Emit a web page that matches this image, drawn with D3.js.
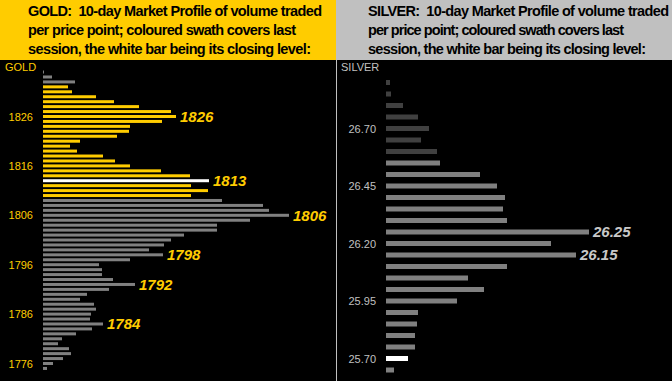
<!DOCTYPE html>
<html>
<head>
<meta charset="utf-8">
<script src="https://cdn.jsdelivr.net/npm/d3@7"></script>
<style>
  html, body { margin: 0; padding: 0; background: #000; }
  svg { display: block; font-family: Arial, "Liberation Sans", sans-serif; }
</style>
</head>
<body>
<div id="chart"></div>
<script>
// gold: price points from top to bottom, volume per price point
const goldPrices = d3.range(1835, 1774, -1);
const goldVolumes = [
  1, 9, 32, 25, 29, 53, 71, 96, 128, 133,
  119, 87, 86, 74, 37, 27, 34, 60, 72, 87,
  118, 147, 166, 148, 165, 148, 179, 220, 226, 246,
  207, 174, 174, 141, 128, 121, 106, 120, 87, 56,
  59, 59, 70, 92, 66, 44, 37, 51, 53, 48,
  47, 60, 49, 33, 19, 15, 26, 28, 20, 10,
  4
];
const goldSession = [1810, 1832];
const goldClose = 1813;
const goldTicks = [1826, 1816, 1806, 1796, 1786, 1776];
const goldCallouts = [1826, 1813, 1806, 1798, 1792, 1784];

// silver
const silverPrices = d3.range(26.90, 25.64, -0.05).map(d => +d.toFixed(2));
const silverVolumes = [
  4, 5, 17, 32, 43, 35, 51, 54, 94, 111,
  119, 117, 121, 203, 165, 190, 121, 82, 98, 71,
  32, 31, 29, 29, 22, 8
];
const silverSession = [25.65, 26.55];
const silverClose = 25.70;
const silverTicks = [26.70, 26.45, 26.20, 25.95, 25.70];
const silverCallouts = [26.25, 26.15];

const goldHeader = ['GOLD:  10-day Market Profile of volume traded', 'per price point; coloured swath covers last', 'session, the white bar being its closing level:'];
const silverHeader = ['SILVER:  10-day Market Profile of volume traded', 'per price point; coloured swath covers last', 'session, the white bar being its closing level:'];

const W = 672, H = 381;
const headerH = 60;
const split = 336;

const svg = d3.select('#chart').append('svg')
  .attr('width', W)
  .attr('height', H);

svg.append('rect').attr('width', W).attr('height', H).attr('fill', '#000');

// headers
svg.append('rect').attr('x', 0).attr('y', 0).attr('width', split).attr('height', headerH).attr('fill', '#FFCC00');
svg.append('rect').attr('x', split).attr('y', 0).attr('width', W - split).attr('height', headerH).attr('fill', '#C0C0C0');
svg.append('line')
  .attr('x1', split + 0.5).attr('x2', split + 0.5)
  .attr('y1', headerH).attr('y2', H)
  .attr('stroke', '#C0C0C0');

function header(x, lines, lengths) {
  lines.forEach((l, i) => {
    svg.append('text')
      .attr('x', x)
      .attr('y', 16 + i * 19)
      .attr('font-size', '14.5px')
      .attr('font-weight', 'bold')
      .attr('textLength', lengths[i])
      .attr('lengthAdjust', 'spacing')
      .style('white-space', 'pre')
      .attr('fill', '#000')
      .text(l);
  });
}
header(28, goldHeader, [294, 268, 283]);
header(368, silverHeader, [301, 256, 278]);

function profile(opts) {
  const g = svg.append('g');
  const y = d3.scaleLinear().domain(opts.yDomain).range(opts.yRange);
  const x = d3.scaleLinear().domain([0, 100]).range([opts.x0, opts.x0 + 100]);
  const data = opts.prices.map((p, i) => ({ price: p, vol: opts.volumes[i] }));

  const colour = d => {
    if (Math.abs(d.price - opts.close) < 1e-6) return '#FFFFFF';
    if (d.price >= opts.session[0] - 1e-6 && d.price <= opts.session[1] + 1e-6) return opts.swath;
    return opts.rest;
  };

  g.selectAll('rect.bar')
    .data(data)
    .enter().append('rect')
    .attr('class', 'bar')
    .attr('x', x(0))
    .attr('y', d => y(d.price) - opts.barH / 2)
    .attr('width', d => x(d.vol) - x(0))
    .attr('height', opts.barH)
    .attr('fill', colour);

  const axis = d3.axisLeft(y)
    .tickValues(opts.ticks)
    .tickSize(0)
    .tickPadding(0)
    .tickFormat(opts.fmt);
  const ax = g.append('g')
    .attr('transform', `translate(${opts.axisX}, 0)`)
    .call(axis);
  ax.select('.domain').remove();
  ax.selectAll('text')
    .attr('fill', opts.tickColour)
    .attr('font-size', '11px')
    .attr('font-family', 'Arial, "Liberation Sans", sans-serif');

  g.append('text')
    .attr('x', opts.titleX)
    .attr('y', 71)
    .attr('font-size', '11px')
    .attr('fill', opts.tickColour)
    .text(opts.title);

  const byPrice = new Map(data.map(d => [d.price, d]));
  g.selectAll('text.callout')
    .data(opts.callouts)
    .enter().append('text')
    .attr('class', 'callout')
    .attr('x', p => x(byPrice.get(p).vol) + 4)
    .attr('y', p => y(p))
    .attr('dy', '0.36em')
    .attr('font-size', '15px')
    .attr('font-weight', 'bold')
    .attr('font-style', 'italic')
    .attr('fill', opts.calloutColour)
    .text(opts.fmt);
}

profile({
  prices: goldPrices, volumes: goldVolumes, session: goldSession, close: goldClose,
  ticks: goldTicks, callouts: goldCallouts,
  yDomain: [1826, 1776], yRange: [116.5, 363.5],
  x0: 43, barH: 3, axisX: 33,
  swath: '#FFCC00', rest: '#808080',
  tickColour: '#FFCC00', calloutColour: '#FFCC00',
  title: 'GOLD', titleX: 5,
  fmt: d3.format('d')
});

profile({
  prices: silverPrices, volumes: silverVolumes, session: silverSession, close: silverClose,
  ticks: silverTicks, callouts: silverCallouts,
  yDomain: [26.70, 25.70], yRange: [128.5, 358.5],
  x0: 386, barH: 5, axisX: 376,
  swath: '#808080', rest: '#404040',
  tickColour: '#C0C0C0', calloutColour: '#C8C8C8',
  title: 'SILVER', titleX: 341,
  fmt: d3.format('.2f')
});
</script>
</body>
</html>
